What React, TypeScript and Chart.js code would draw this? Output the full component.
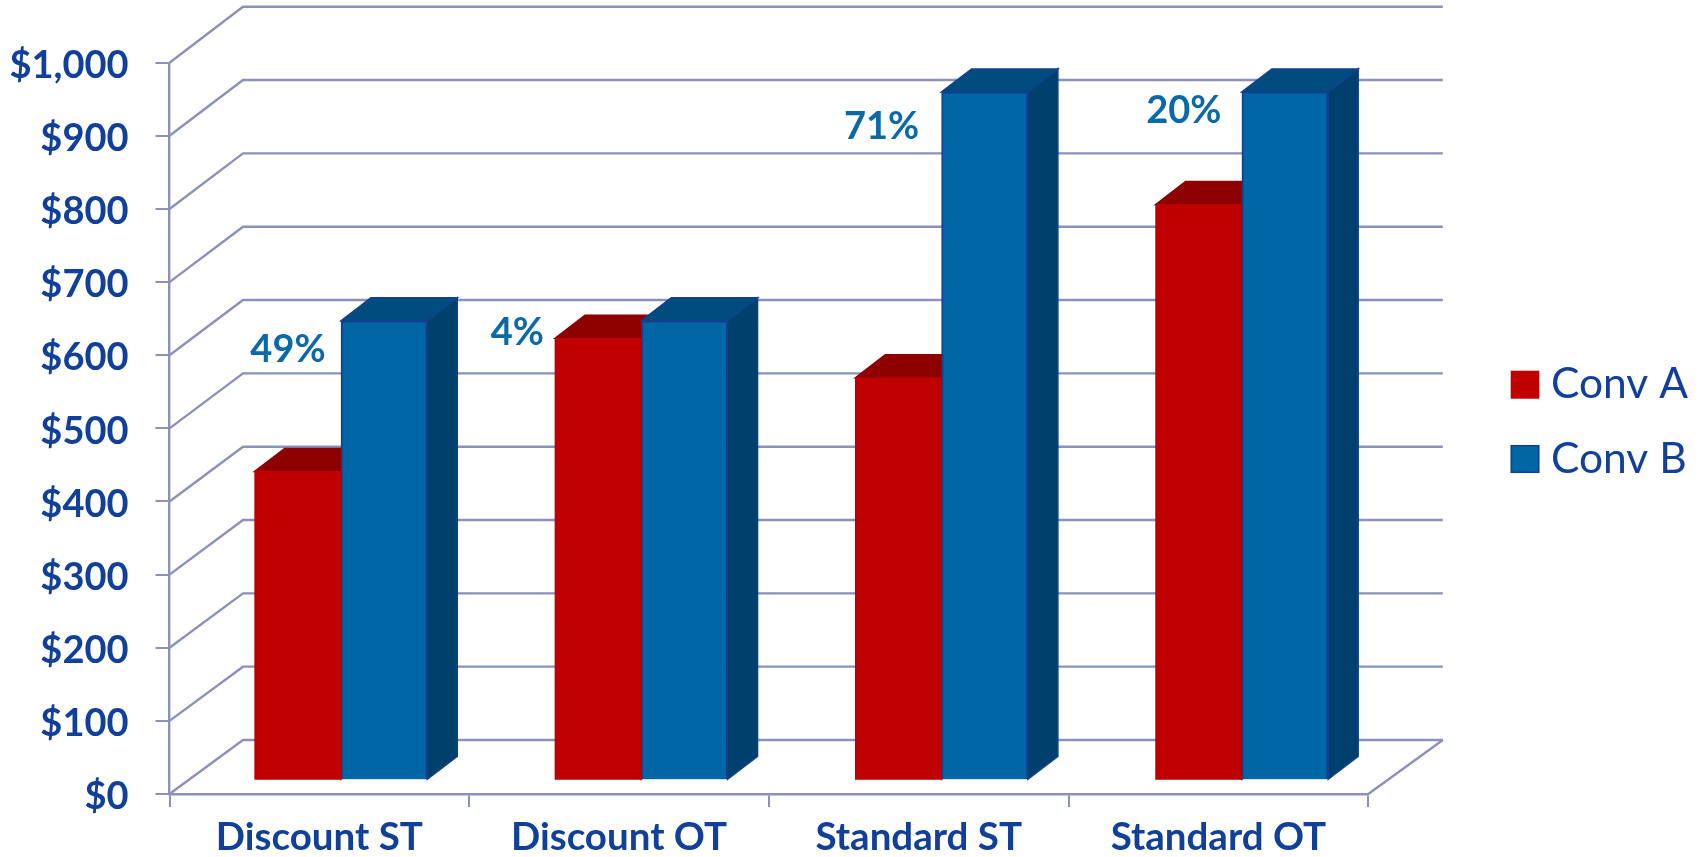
import React, { useEffect, useRef } from "react";
import { Chart, registerables } from "chart.js";

Chart.register(...registerables);

const categories = ["Discount ST", "Discount OT", "Standard ST", "Standard OT"];
const convA = [421, 603, 549, 786];
const convB = [627, 627, 940, 940];
const gainLabels = ["49%", "4%", "71%", "20%"];
// Where each gain label sits relative to the top-left corner of its Conv B bar.
const gainOffsetX = [-53, -124, -60, -58];
const gainOffsetY = [29, 12, 35, 19];

const TEXT = "#10409a";
const GAIN = "#0a69a8";
const GRID = "#8a91ba";
const RED = "#c00000";
const RED_TOP = "#8e0000";
const RED_SIDE = "#7a0000";
const BLUE = "#0066a6";
const BLUE_TOP = "#004c7e";
const BLUE_SIDE = "#00406c";
const BLUE_EDGE = "#12408f";
const FONT = "Lato, Carlito, sans-serif";

const WIDTH = 1704;
const HEIGHT = 857;
const AREA = { left: 169.5, right: 1368.3, top: 62.7, bottom: 794 };
// Perspective of the rear wall and of the bar depth.
const WALL_DX = 73.5;
const BAR_DX = 30;
const BAR_DY = 23;

const wallDy = (v: number) => 54 + (2 * v) / 1000;

const wallPlugin = {
  id: "wall",
  beforeDatasetsDraw(chart: any) {
    const { ctx } = chart;
    const y = chart.scales.y;
    ctx.save();
    ctx.strokeStyle = GRID;
    ctx.lineWidth = 2.4;
    ctx.lineJoin = "miter";
    y.ticks.forEach((t: any) => {
      const py = y.getPixelForValue(t.value);
      const back = py - wallDy(t.value);
      ctx.beginPath();
      ctx.moveTo(AREA.left, py);
      ctx.lineTo(AREA.left + WALL_DX, back);
      ctx.lineTo(AREA.right + WALL_DX + 1, back);
      ctx.stroke();
    });
    // Right edge of the floor.
    const py0 = y.getPixelForValue(0);
    ctx.beginPath();
    ctx.moveTo(AREA.right, py0);
    ctx.lineTo(AREA.right + WALL_DX + 1, py0 - wallDy(0));
    ctx.stroke();
    ctx.restore();
  },
};

const depthPlugin = {
  id: "depth",
  beforeDatasetsDraw(chart: any) {
    const { ctx } = chart;
    chart.data.datasets.forEach((ds: any, di: number) => {
      const top = di === 0 ? RED_TOP : BLUE_TOP;
      const side = di === 0 ? RED_SIDE : BLUE_SIDE;
      chart.getDatasetMeta(di).data.forEach((bar: any) => {
        const l = bar.x - bar.width / 2;
        const r = bar.x + bar.width / 2;
        ctx.save();
        ctx.lineWidth = 1.5;
        ctx.fillStyle = side;
        ctx.strokeStyle = di === 0 ? side : BLUE_EDGE;
        ctx.beginPath();
        ctx.moveTo(r, bar.y);
        ctx.lineTo(r + BAR_DX, bar.y - BAR_DY);
        ctx.lineTo(r + BAR_DX, bar.base - BAR_DY);
        ctx.lineTo(r, bar.base);
        ctx.closePath();
        ctx.fill();
        ctx.stroke();
        ctx.fillStyle = top;
        ctx.strokeStyle = di === 0 ? top : BLUE_EDGE;
        ctx.beginPath();
        ctx.moveTo(l, bar.y);
        ctx.lineTo(l + BAR_DX, bar.y - BAR_DY);
        ctx.lineTo(r + BAR_DX, bar.y - BAR_DY);
        ctx.lineTo(r, bar.y);
        ctx.closePath();
        ctx.fill();
        ctx.stroke();
        ctx.restore();
      });
    });
  },
};

const gainPlugin = {
  id: "gain",
  afterDatasetsDraw(chart: any) {
    const { ctx } = chart;
    ctx.save();
    ctx.font = `bold 38px ${FONT}`;
    ctx.fillStyle = GAIN;
    ctx.textAlign = "center";
    ctx.textBaseline = "middle";
    chart.getDatasetMeta(1).data.forEach((bar: any, i: number) => {
      const l = bar.x - bar.width / 2;
      ctx.fillText(gainLabels[i], l + gainOffsetX[i], bar.y + gainOffsetY[i]);
    });
    ctx.restore();
  },
};

const legendPlugin = {
  id: "sideLegend",
  afterDraw(chart: any) {
    const { ctx } = chart;
    ctx.save();
    chart.data.datasets.forEach((ds: any, i: number) => {
      const top = 370.7 + i * 74.3;
      ctx.fillStyle = ds.backgroundColor;
      ctx.fillRect(1510.7, top, 28.6, 28);
      if (ds.borderWidth) {
        ctx.strokeStyle = ds.borderColor;
        ctx.lineWidth = 1.5;
        ctx.strokeRect(1511.4, top + 0.7, 27.2, 26.6);
      }
      ctx.font = `42.5px ${FONT}`;
      ctx.fillStyle = TEXT;
      ctx.textAlign = "left";
      ctx.textBaseline = "middle";
      ctx.fillText(ds.label, 1551, top + 14);
    });
    ctx.restore();
  },
};

export default function App() {
  const ref = useRef<HTMLCanvasElement | null>(null);

  useEffect(() => {
    if (!ref.current) return;
    const chart = new Chart(ref.current, {
      type: "bar",
      data: {
        labels: categories,
        datasets: [
          {
            label: "Conv A",
            data: convA.map((v, i) => ({ x: i, y: v })),
            backgroundColor: RED,
            borderWidth: 0,
            xAxisID: "xBars",
            yAxisID: "yBars",
            barThickness: 86.3,
          },
          {
            label: "Conv B",
            data: convB.map((v, i) => ({ x: i, y: v })),
            backgroundColor: BLUE,
            borderColor: BLUE_EDGE,
            borderWidth: 2,
            xAxisID: "xBars",
            yAxisID: "yBars",
            barThickness: 86.3,
          },
        ],
      },
      options: {
        responsive: false,
        animation: false,
        layout: {
          padding: {
            top: AREA.top,
            right: WIDTH - AREA.right,
            left: 0,
            bottom: 0,
          },
        },
        plugins: {
          legend: { display: false },
          tooltip: { enabled: false },
          title: { display: false },
        },
        scales: {
          x: {
            type: "category",
            position: "bottom",
            offset: true,
            grid: {
              offset: true,
              drawOnChartArea: false,
              drawTicks: true,
              tickLength: 13,
              color: GRID,
              lineWidth: 2,
            },
            border: { display: true, color: GRID, width: 2.4 },
            ticks: {
              color: TEXT,
              font: { family: FONT, size: 38.5, weight: "bold" },
              padding: 7,
              maxRotation: 0,
              autoSkip: false,
            },
            afterFit(s: any) {
              s.height = HEIGHT - AREA.bottom;
            },
          },
          y: {
            type: "linear",
            position: "left",
            min: 0,
            max: 1000,
            grid: {
              drawOnChartArea: false,
              drawTicks: true,
              tickLength: 14,
              color: GRID,
              lineWidth: 2,
            },
            border: { display: true, color: GRID, width: 2.4 },
            ticks: {
              stepSize: 100,
              color: TEXT,
              font: { family: FONT, size: 38, weight: "bold" },
              padding: 27,
              labelOffset: 3,
              callback: (v: any) => "$" + Number(v).toLocaleString("en-US"),
            },
            afterFit(s: any) {
              s.width = AREA.left;
            },
          },
          // The bars stand further back than the axes, so they use their own
          // hidden scales, shifted along the floor.
          xBars: {
            type: "linear",
            axis: "x",
            display: false,
            offset: false,
            bounds: "data",
            min: -0.571,
            max: 3.421,
          },
          yBars: {
            type: "linear",
            axis: "y",
            display: false,
            bounds: "data",
            min: -20.1,
            max: 979.9,
          },
        },
      } as any,
      plugins: [wallPlugin, depthPlugin, gainPlugin, legendPlugin],
    });
    return () => chart.destroy();
  }, []);

  return (
    <canvas
      ref={ref}
      width={WIDTH}
      height={HEIGHT}
      style={{ position: "absolute", left: 0, top: 0, display: "block", background: "#fff" }}
    />
  );
}
